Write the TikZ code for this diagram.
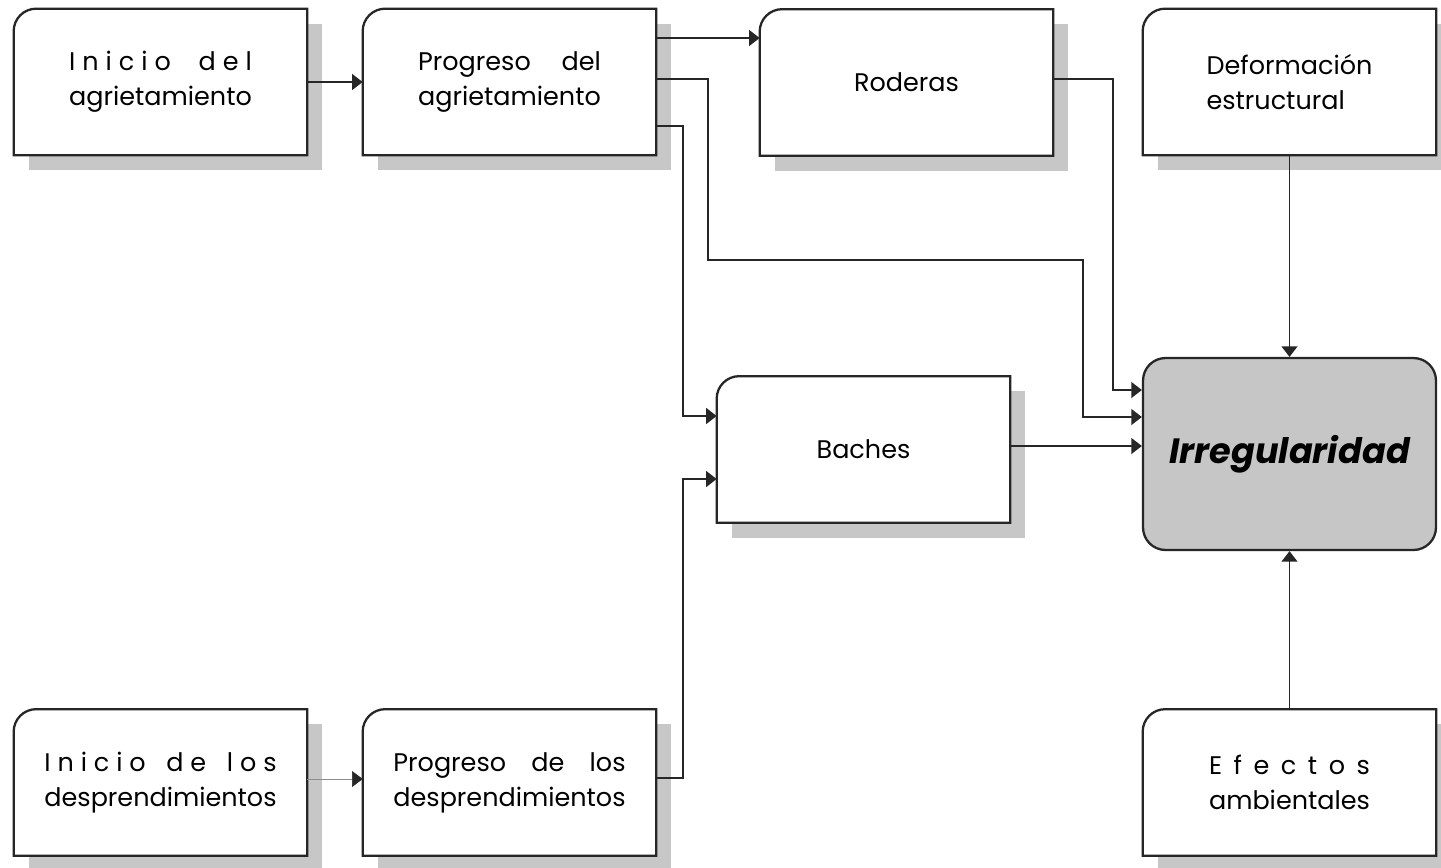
\documentclass[tikz,border=0pt]{standalone}
\usepackage{fontspec}
\setmainfont{Poppins}
\usetikzlibrary{arrows.meta,backgrounds}

\newlength\anchoL
% first line stretched to the width of the second one
\newcommand\dosl[2]{\settowidth\anchoL{#2}\makebox[\anchoL][s]{#1}\\#2}

\tikzset{
  caja/.style={minimum width=5.86cm,minimum height=2.92cm,align=left,
    font=\fontsize{14.5}{20}\selectfont},
  sombra/.style={fill=black!22},
  borde/.style={draw=black!85,line width=1.3pt,fill=white},
  flecha/.style={draw=black!85,line width=1pt,-{Triangle[length=6pt,width=9pt]}}
}

\begin{document}
\begin{tikzpicture}[x=0.02cm,y=-0.02cm]
  \useasboundingbox (0,0) rectangle (1441,867);
  \node[caja] (iniagr) at (160.5,82) {\dosl{I n i c i o \ \ \ d e l}{agrietamiento}};
  \node[caja] (progagr) at (509.5,82) {\dosl{Progreso \ del}{agrietamiento}};
  \node[caja] (roderas) at (906.5,82.5) {Roderas};
  \node[caja] (deform) at (1289.5,82) {Deformación\\estructural};
  \node[caja] (baches) at (863.5,449.5) {Baches};
  \node[caja] (inidesp) at (160.5,782.5) {\dosl{I n i c i o \ \ d e \ \ l o s}{desprendimientos}};
  \node[caja] (progdesp) at (509.5,782.5) {\dosl{Progreso \ de \ los}{desprendimientos}};
  \node[caja] (efectos) at (1289.5,782.5) {\dosl{E f e c t o s}{ambientales}};
  \node[draw=black!85,line width=1.3pt,fill=gray!45,rounded corners=0.45cm,
    minimum width=5.86cm,minimum height=3.84cm,
    font=\fontsize{20}{24}\selectfont\bfseries\itshape] (irreg) at (1289.5,454) {Irregularidad};

  % shadows and boxes with one round corner
  \begin{scope}[on background layer]
    \foreach \c in {iniagr,progagr,roderas,deform,baches,inidesp,progdesp,efectos}{
      \fill[sombra] ([xshift=0.3cm,yshift=-0.3cm]\c.south west) rectangle
        ([xshift=0.3cm,yshift=-0.3cm]\c.north east);
      \filldraw[borde] (\c.south west) -- ([yshift=-0.45cm]\c.north west)
        arc[start angle=180,end angle=90,radius=0.45cm] -- (\c.north east)
        -- (\c.south east) -- cycle;
    }
  \end{scope}

  \draw[flecha] (iniagr.east) -- (progagr.west);
  \draw[flecha] (progagr.east |- 0,38) -- (roderas.west |- 0,38);
  \draw[flecha] (roderas.east |- 0,79) -- (1113,79) |- (irreg.west |- 0,390);
  \draw[flecha] (progagr.east |- 0,79) -- (708,79) |- (1083,260) |- (irreg.west |- 0,417);
  \draw[flecha] (progagr.east |- 0,126) -- (683,126) |- (baches.west |- 0,416);
  \draw[flecha] (progdesp.east |- 0,778) -- (683,778) |- (baches.west |- 0,479);
  \draw[line width=0.3pt,draw=black!45,-{Triangle[length=6pt,width=9pt,black!85]}]
    (inidesp.east |- 0,779) -- (progdesp.west |- 0,779);
  \draw[flecha] (baches.east |- 0,446) -- (irreg.west |- 0,446);
  \draw[flecha] (deform.south) -- (irreg.north);
  \draw[flecha] (efectos.north) -- (irreg.south);
\end{tikzpicture}
\end{document}
